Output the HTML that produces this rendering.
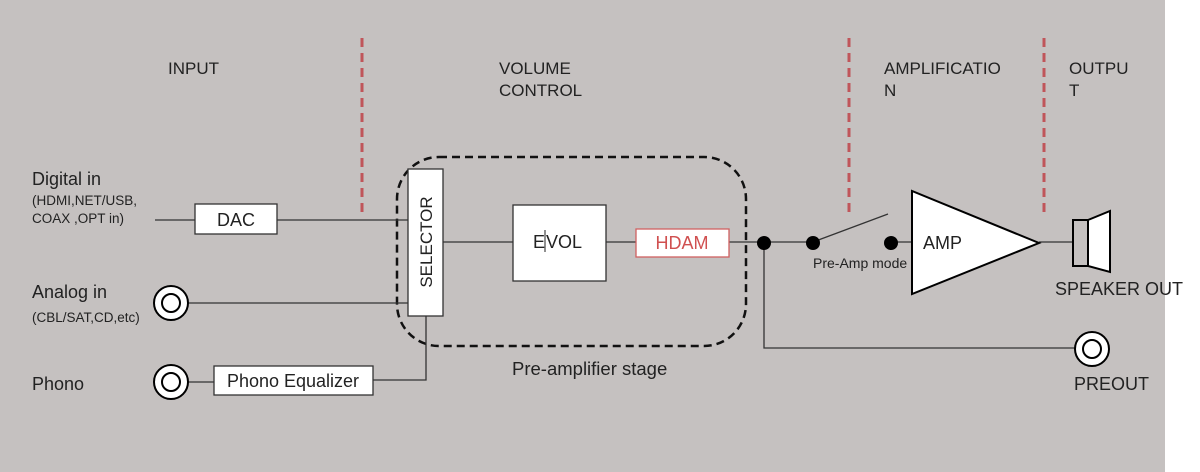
<!DOCTYPE html>
<html><head><meta charset="utf-8"><style>
html,body{margin:0;padding:0;background:#fff;width:1200px;height:472px;overflow:hidden}
svg{display:block;font-family:"Liberation Sans",sans-serif}
</style></head><body>
<svg width="1200" height="472" viewBox="0 0 1200 472">
<rect x="0" y="0" width="1165" height="472" fill="#c5c1c0"/>
<g stroke="#c0555a" stroke-width="3" stroke-dasharray="9,6">
<line x1="362" y1="38" x2="362" y2="216"/>
<line x1="849" y1="38" x2="849" y2="216"/>
<line x1="1044" y1="38" x2="1044" y2="216"/>
</g>
<g font-size="17" fill="#222">
<text x="168" y="74">INPUT</text>
<text x="499" y="74">VOLUME</text><text x="499" y="96">CONTROL</text>
<text x="884" y="74">AMPLIFICATIO</text><text x="884" y="96">N</text>
<text x="1069" y="74">OUTPU</text><text x="1069" y="96">T</text>
<text x="32" y="185" font-size="18">Digital in</text>
<text x="32" y="298" font-size="18">Analog in</text>
<text x="32" y="390" font-size="18">Phono</text>
<text x="512" y="375" font-size="18.5">Pre-amplifier stage</text>
<text x="1055" y="295" font-size="18">SPEAKER OUT</text>
<text x="1074" y="390" font-size="18">PREOUT</text>
</g>
<g font-size="13.5" fill="#222">
<text x="32" y="205">(HDMI,NET/USB,</text>
<text x="32" y="223">COAX ,OPT in)</text>
<text x="32" y="322">(CBL/SAT,CD,etc)</text>
<text x="813" y="268" font-size="14">Pre-Amp mode</text>
</g>
<rect x="397" y="157" width="349" height="189" rx="42" fill="none" stroke="#111" stroke-width="2.5" stroke-dasharray="8,5"/>
<g stroke="#333" stroke-width="1.3" fill="none">
<line x1="155" y1="220" x2="408" y2="220"/>
<line x1="188" y1="303" x2="408" y2="303"/>
<line x1="188" y1="382" x2="214" y2="382"/>
<polyline points="373,380 426,380 426,316"/>
<line x1="443" y1="242" x2="513" y2="242"/>
<line x1="606" y1="242" x2="636" y2="242"/>
<line x1="729" y1="242" x2="813" y2="242"/>
<line x1="813" y1="242" x2="888" y2="214"/>
<line x1="891" y1="242" x2="912" y2="242"/>
<line x1="1039" y1="242" x2="1073" y2="242"/>
<polyline points="764,243 764,348 1076,348"/>
</g>
<rect x="195" y="204" width="82" height="30" fill="#fff" stroke="#333" stroke-width="1.3"/>
<text x="236" y="226" font-size="18" text-anchor="middle" fill="#222">DAC</text>
<rect x="408" y="169" width="35" height="147" fill="#fff" stroke="#333" stroke-width="1.3"/>
<text transform="translate(432,242) rotate(-90)" font-size="17" text-anchor="middle" fill="#222">SELECTOR</text>
<rect x="214" y="366" width="159" height="29" fill="#fff" stroke="#333" stroke-width="1.3"/>
<text x="293" y="387" font-size="18" text-anchor="middle" fill="#222">Phono Equalizer</text>
<rect x="513" y="205" width="93" height="76" fill="#fff" stroke="#333" stroke-width="1.3"/>
<text x="533" y="248" font-size="18" fill="#222">E</text>
<text x="546" y="248" font-size="18" fill="#222">VOL</text>
<line x1="545" y1="230" x2="545" y2="252" stroke="#222" stroke-width="1"/>
<rect x="636" y="229" width="93" height="28" fill="#fff" stroke="#d06060" stroke-width="1.3"/>
<text x="682" y="249" font-size="18" text-anchor="middle" fill="#d05050">HDAM</text>
<g fill="#000"><circle cx="764" cy="243" r="7"/><circle cx="813" cy="243" r="7"/><circle cx="891" cy="243" r="7"/></g>
<polygon points="912,191 912,294 1039,243" fill="#fff" stroke="#000" stroke-width="2"/>
<text x="923" y="249" font-size="18" fill="#222">AMP</text>
<rect x="1073" y="220" width="15" height="46" fill="#c5c1c0" stroke="#000" stroke-width="2"/>
<polygon points="1088,220 1110,211 1110,272 1088,266" fill="#fff" stroke="#000" stroke-width="2"/>
<g fill="#fff" stroke="#000" stroke-width="2">
<circle cx="171" cy="303" r="17"/><circle cx="171" cy="303" r="9"/>
<circle cx="171" cy="382" r="17"/><circle cx="171" cy="382" r="9"/>
<circle cx="1092" cy="349" r="17"/><circle cx="1092" cy="349" r="9"/>
</g>
</svg>
</body></html>
